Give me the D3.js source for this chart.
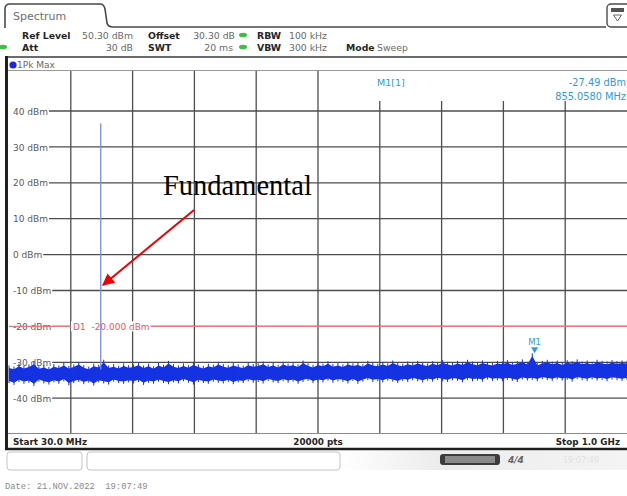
<!DOCTYPE html>
<html>
<head>
<meta charset="utf-8">
<script src="https://cdn.jsdelivr.net/npm/d3@7"></script>
<style>
  body { margin: 0; background: #fff; }
  svg { display: block; font-family: 'DejaVu Sans', sans-serif; }
</style>
</head>
<body>
<svg width="627" height="496"></svg>
<script>
var startFreq = 30.0;   // MHz
var stopFreq = 1000.0;  // MHz
var refLevel = 50.3;    // dBm
var levelRange = 100;   // dB, 10 divisions

var levelTicks = [40, 30, 20, 10, 0, -10, -20, -30, -40];
var levelTickLabels = ['40 dBm', '30 dBm', '20 dBm', '10 dBm', '0 dBm', '-10 dBm', '-20 dBm', '-30 dBm', '-40 dBm'];

var displayLine = -20.0;
var fundamentalFreq = 174;
var fundamentalLevel = 36.5;
var markerFreq = 855.058;
var markerLevel = -27.49;

// peak / valley of the noise floor
var noiseMax = [
  -30.9, -31.2, -30.4, -31.0, -30.6, -29.8, -31.1, -30.7, -31.3, -30.5, -30.9, -30.2, -31.0, -30.6, -29.9, -30.8, -31.2, -30.4, -30.7, -29.3, -30.9, -30.5, -31.0, -30.3, -30.8,
  -30.6, -30.1, -30.9, -30.4, -31.1, -30.2, -30.7, -29.6, -30.5, -30.9, -30.3, -30.8, -30.0, -30.6, -31.0, -30.4, -30.7, -29.9, -30.5, -30.8, -30.2, -30.6, -30.9, -30.1, -30.5,
  -30.3, -29.8, -30.6, -30.2, -30.7, -29.9, -30.4, -30.1, -30.6, -29.5, -30.3, -30.7, -30.0, -30.4, -29.7, -30.5, -30.2, -30.6, -29.9, -30.3, -30.0, -30.5, -29.6, -30.2, -30.4,
  -29.9, -30.3, -29.5, -30.1, -30.4, -29.8, -30.2, -29.6, -30.0, -30.3, -29.7, -30.1, -29.4, -29.9, -30.2, -29.6, -30.0, -29.3, -29.8, -30.1, -29.5, -29.9, -30.2, -29.6, -29.8,
  -29.4, -30.0, -29.7, -29.2, -29.9, -27.5, -30.1, -29.6, -29.3, -29.8, -29.5, -30.0, -29.4, -29.7, -29.2, -29.8, -29.5, -29.9, -29.3, -29.6, -29.8, -29.4, -29.7, -29.5, -29.6
];
var noiseMin = [
  -35.8, -36.3, -35.5, -36.0, -35.7, -36.6, -35.4, -35.9, -36.2, -35.6, -36.0, -35.3, -36.4, -35.8, -35.5, -36.1, -35.7, -36.5, -35.6, -35.9, -36.2, -35.4, -35.8, -36.0, -35.6,
  -35.9, -35.5, -36.3, -35.7, -36.0, -35.4, -35.8, -36.1, -35.6, -35.9, -35.3, -35.7, -36.2, -35.5, -35.8, -36.0, -35.4, -35.7, -35.9, -35.5, -36.1, -35.6, -35.8, -35.3, -35.7,
  -35.5, -35.9, -35.2, -35.6, -35.8, -35.3, -35.7, -35.4, -36.0, -35.5, -35.2, -35.8, -35.4, -35.6, -35.1, -35.7, -35.3, -35.5, -35.9, -35.2, -36.0, -35.4, -35.0, -35.5, -35.3,
  -35.6, -35.1, -35.4, -35.8, -35.2, -35.5, -35.0, -35.3, -35.6, -35.1, -35.4, -34.9, -35.3, -35.5, -35.0, -35.2, -35.6, -34.9, -35.3, -35.1, -35.4, -34.8, -35.2, -35.0, -35.3,
  -34.9, -35.2, -35.5, -34.8, -35.1, -34.9, -35.3, -34.7, -35.0, -35.2, -34.8, -35.1, -34.9, -35.4, -34.7, -35.0, -35.2, -34.8, -35.1, -34.9, -35.3, -34.8, -35.0, -35.2, -34.9
];

var plot = { left: 9, right: 627, top: 71, bottom: 433 };
var traceBlue = '#1532e2';

var svg = d3.select('svg');
var defs = svg.append('defs');

var x = d3.scaleLinear().domain([startFreq, stopFreq]).range([plot.left, plot.right]);
var y = d3.scaleLinear().domain([refLevel - levelRange, refLevel]).range([plot.bottom, 74]);

// ---- tab + header ----
svg.append('path')
  .attr('d', 'M5,28 L5,9 Q5,4 10,4 L100,4 Q104,4 105,9 L107,23 Q108,27 113,27 L606,27')
  .attr('fill', 'none').attr('stroke', '#4a4a4a').attr('stroke-width', 1.6);
svg.append('text').text('Spectrum').attr('x', 13).attr('y', 20)
  .attr('font-size', 11).attr('fill', '#707070');

var icon = svg.append('g').attr('transform', 'translate(607,4)');
icon.append('rect').attr('x', 0).attr('y', 0).attr('width', 24).attr('height', 23).attr('rx', 4)
  .attr('fill', '#fff').attr('stroke', '#4a4a4a').attr('stroke-width', 1.4);
icon.append('rect').attr('x', 4).attr('y', 4).attr('width', 13).attr('height', 4).attr('fill', '#555');
icon.append('path').attr('d', 'M6.5,11 L14.5,11 L10.5,17 Z').attr('fill', 'none').attr('stroke', '#666');

var header = [
  { t: 'Ref Level', x: 22, y: 39, b: true },
  { t: '50.30 dBm', x: 133, y: 39, end: true },
  { t: 'Offset', x: 148, y: 39, b: true },
  { t: '30.30 dB', x: 235, y: 39, end: true },
  { t: 'RBW', x: 257, y: 39, b: true },
  { t: '100 kHz', x: 289, y: 39 },
  { t: 'Att', x: 22, y: 51, b: true },
  { t: '30 dB', x: 133, y: 51, end: true },
  { t: 'SWT', x: 148, y: 51, b: true },
  { t: '20 ms', x: 233, y: 51, end: true },
  { t: 'VBW', x: 257, y: 51, b: true },
  { t: '300 kHz', x: 289, y: 51 },
  { t: 'Mode', x: 346, y: 51, b: true },
  { t: 'Sweep', x: 377, y: 51 }
];
svg.append('g').selectAll('text').data(header).enter().append('text')
  .text(function(d) { return d.t; })
  .attr('x', function(d) { return d.x; })
  .attr('y', function(d) { return d.y; })
  .attr('font-size', 9.3)
  .attr('font-weight', function(d) { return d.b ? 'bold' : 'normal'; })
  .attr('text-anchor', function(d) { return d.end ? 'end' : 'start'; })
  .attr('fill', function(d) { return d.b ? '#262626' : '#6a6a6a'; });

[[243, 35], [3, 47], [243, 47]].forEach(function(p) {
  svg.append('ellipse').attr('cx', p[0]).attr('cy', p[1]).attr('rx', 4).attr('ry', 2.3).attr('fill', '#3fbf3f');
});

svg.append('line').attr('x1', 5).attr('x2', 627).attr('y1', 57).attr('y2', 57).attr('stroke', '#3a3a3a').attr('stroke-width', 1.4);
svg.append('line').attr('x1', 5).attr('x2', 627).attr('y1', 70.5).attr('y2', 70.5).attr('stroke', '#9a9a9a').attr('stroke-width', 1);
svg.append('circle').attr('cx', 13).attr('cy', 65).attr('r', 3.6).attr('fill', '#2424d8');
svg.append('text').text('1Pk Max').attr('x', 17).attr('y', 68).attr('font-size', 9).attr('fill', '#6a6a6a');

// ---- grid ----
var grid = svg.append('g');
var freqGrid = d3.range(1, 10).map(function(k) { return startFreq + k * (stopFreq - startFreq) / 10; });
grid.selectAll('.vgrid').data(freqGrid).enter().append('line')
  .attr('x1', function(d) { return x(d); }).attr('x2', function(d) { return x(d); })
  .attr('y1', plot.top).attr('y2', plot.bottom)
  .attr('stroke', '#4e4e4e').attr('stroke-width', 1.3);

var yAxis = svg.append('g')
  .attr('transform', 'translate(13,0)')
  .call(d3.axisRight(y).tickValues(levelTicks).tickSize(0).tickPadding(0)
    .tickFormat(function(d, i) { return levelTickLabels[i]; }));
yAxis.select('.domain').remove();
yAxis.selectAll('text').attr('font-size', 9).attr('fill', '#5a5a5a')
  .attr('font-family', 'DejaVu Sans').attr('dy', '0.35em');

yAxis.selectAll('.tick').each(function(d) {
  var w = this.querySelector('text').getComputedTextLength();
  grid.append('line')
    .attr('x1', 13 + w + 1).attr('x2', plot.right)
    .attr('y1', y(d)).attr('y2', y(d))
    .attr('stroke', '#4e4e4e').attr('stroke-width', 1.3);
});

// marker info box hides the top of the grid on the right
svg.append('rect').attr('x', 322).attr('y', 71).attr('width', 310).attr('height', 30).attr('fill', '#fff');
svg.append('text').text('M1[1]').attr('x', 377).attr('y', 86).attr('font-size', 9.5).attr('fill', '#2f9bd6');
svg.append('text').text('-27.49 dBm').attr('x', 626).attr('y', 86).attr('text-anchor', 'end')
  .attr('font-size', 9.8).attr('fill', '#2f9bd6');
svg.append('text').text('855.0580 MHz').attr('x', 626).attr('y', 100).attr('text-anchor', 'end')
  .attr('font-size', 9.8).attr('fill', '#2f9bd6');

// ---- display line D1 ----
svg.append('line').attr('x1', plot.left).attr('x2', plot.right)
  .attr('y1', y(displayLine)).attr('y2', y(displayLine))
  .attr('stroke', '#e87a7a').attr('stroke-width', 1.1);
var d1g = svg.append('g');
var d1bg = d1g.append('rect').attr('x', 71).attr('y', y(displayLine) - 5).attr('height', 10).attr('fill', '#fff');
var d1 = d1g.append('text').text('D1  -20.000 dBm')
  .attr('x', 73).attr('y', y(displayLine)).attr('dy', '0.36em')
  .attr('font-size', 9).attr('fill', '#e25a5a').attr('xml:space', 'preserve');
d1bg.attr('width', d1.node().getComputedTextLength() + 3);

// ---- trace ----
var noise = noiseMax.map(function(v, i) {
  return { f: startFreq + i * (stopFreq - startFreq) / (noiseMax.length - 1), hi: v, lo: noiseMin[i] };
});
var trace = svg.append('g');
// solid body of the noise band (peaks trimmed), then each peak/valley as a thin spike
trace.append('path').datum(noise)
  .attr('d', d3.area().x(function(d) { return x(d.f); })
    .y0(function(d) { return y(d.lo) - 2.2; }).y1(function(d) { return y(d.hi) + 2.6; }))
  .attr('fill', traceBlue);
trace.selectAll('.spike').data(noise).enter().append('line')
  .attr('x1', function(d) { return x(d.f); }).attr('x2', function(d) { return x(d.f); })
  .attr('y1', function(d) { return y(d.hi); }).attr('y2', function(d) { return y(d.lo); })
  .attr('stroke', traceBlue).attr('stroke-width', 1);
trace.append('line')
  .attr('x1', x(fundamentalFreq)).attr('x2', x(fundamentalFreq))
  .attr('y1', y(fundamentalLevel)).attr('y2', y(-32))
  .attr('stroke', '#7c8cee').attr('stroke-width', 1.3);

// ---- marker M1 ----
var mx = x(markerFreq), my = y(markerLevel);
svg.append('path').attr('d', 'M' + (mx - 3.5) + ',' + (my - 6) + ' L' + (mx + 3.5) + ',' + (my - 6) + ' L' + mx + ',' + my + ' Z')
  .attr('fill', '#2f9bd6');
svg.append('text').text('M1').attr('x', mx).attr('y', my - 8).attr('text-anchor', 'middle')
  .attr('font-size', 8.5).attr('fill', '#2f9bd6');

// ---- frame + bottom bar ----
svg.append('line').attr('x1', 6.5).attr('x2', 6.5).attr('y1', 56).attr('y2', 450).attr('stroke', '#202020').attr('stroke-width', 3);
svg.append('line').attr('x1', 8).attr('x2', 627).attr('y1', 433.5).attr('y2', 433.5).attr('stroke', '#8a8a8a').attr('stroke-width', 1);
svg.append('line').attr('x1', 5).attr('x2', 627).attr('y1', 449).attr('y2', 449).attr('stroke', '#1e1e1e').attr('stroke-width', 2.5);
svg.append('text').text('Start 30.0 MHz').attr('x', 13).attr('y', 445).attr('font-size', 8.8).attr('font-weight', 'bold').attr('fill', '#262626');
svg.append('text').text('20000 pts').attr('x', 318).attr('y', 445).attr('text-anchor', 'middle').attr('font-size', 8.8).attr('font-weight', 'bold').attr('fill', '#262626');
svg.append('text').text('Stop 1.0 GHz').attr('x', 620).attr('y', 445).attr('text-anchor', 'end').attr('font-size', 8.8).attr('font-weight', 'bold').attr('fill', '#262626');

// ---- status bar ----
var grad = defs.append('linearGradient').attr('id', 'statusGrad');
grad.append('stop').attr('offset', '0%').attr('stop-color', '#ffffff');
grad.append('stop').attr('offset', '35%').attr('stop-color', '#ececec');
grad.append('stop').attr('offset', '100%').attr('stop-color', '#f4f4f4');
svg.append('rect').attr('x', 340).attr('y', 451).attr('width', 287).attr('height', 19).attr('fill', 'url(#statusGrad)');
svg.append('rect').attr('x', 7).attr('y', 452).attr('width', 75).attr('height', 18).attr('rx', 3)
  .attr('fill', '#fff').attr('stroke', '#c4c4c4');
svg.append('rect').attr('x', 87).attr('y', 452).attr('width', 253).attr('height', 18).attr('rx', 3)
  .attr('fill', '#fff').attr('stroke', '#c4c4c4');
svg.append('rect').attr('x', 440).attr('y', 454).attr('width', 60).attr('height', 11).attr('rx', 3).attr('fill', '#3c3c3c');
svg.append('rect').attr('x', 445).attr('y', 456).attr('width', 50).attr('height', 7).attr('fill', '#8a8a8a');
svg.append('text').text('4/4').attr('x', 508).attr('y', 463).attr('font-size', 9).attr('font-style', 'italic').attr('font-weight', 'bold').attr('fill', '#666');
svg.append('text').text('19:07:49').attr('x', 563).attr('y', 463).attr('font-size', 8).attr('fill', '#e2e2e2');

svg.append('text').text('Date: 21.NOV.2022  19:07:49').attr('x', 5).attr('y', 489)
  .attr('font-family', 'Liberation Mono').attr('font-size', 8.8).attr('fill', '#8a8a8a').attr('xml:space', 'preserve');

// ---- annotation ----
defs.append('marker').attr('id', 'arrowHead').attr('viewBox', '0 0 10 10')
  .attr('refX', 9).attr('refY', 5).attr('markerWidth', 6.5).attr('markerHeight', 6)
  .attr('markerUnits', 'strokeWidth').attr('orient', 'auto')
  .append('path').attr('d', 'M0,0 L10,5 L0,10 Z').attr('fill', '#f00000');
svg.append('line').attr('x1', 194).attr('y1', 210).attr('x2', 103).attr('y2', 285)
  .attr('stroke', '#f00000').attr('stroke-width', 2).attr('marker-end', 'url(#arrowHead)');
svg.append('text').text('Fundamental').attr('x', 163).attr('y', 195)
  .attr('font-family', 'Liberation Serif').attr('font-size', 28.5).attr('fill', '#000');
</script>
</body>
</html>
